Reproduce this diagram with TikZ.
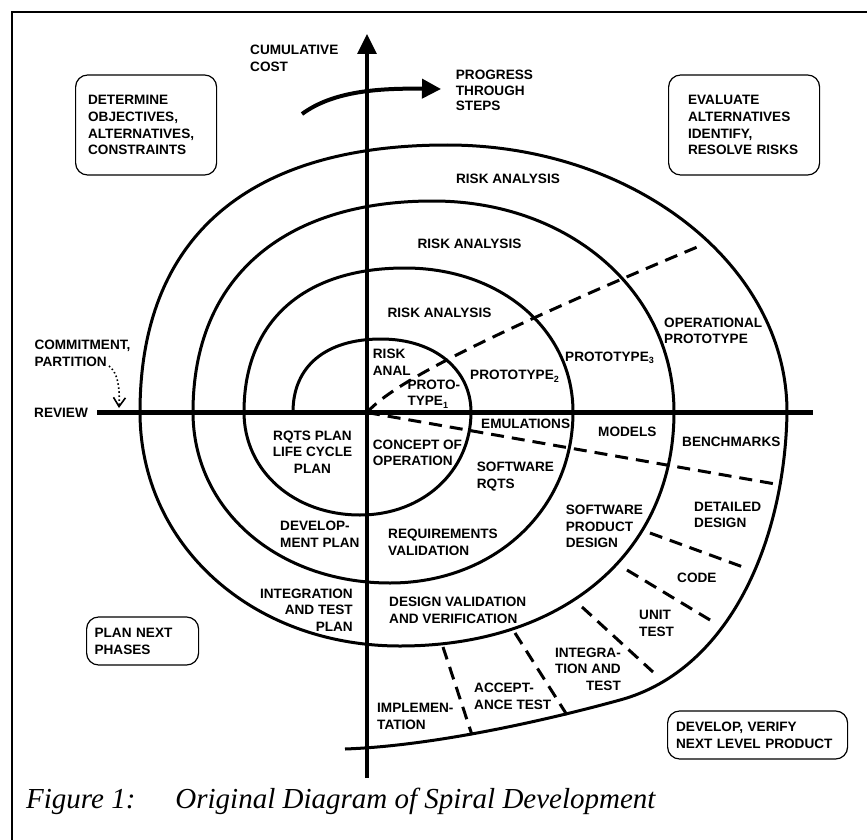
\documentclass[tikz,border=0pt]{standalone}
\usepackage{fontspec}
\setmainfont{Liberation Sans}
\newfontfamily\capfont{Liberation Serif}
\usetikzlibrary{arrows.meta}
\newcommand{\mysub}[1]{\raisebox{-2.5pt}{\fontsize{9}{9}\selectfont #1}}
\begin{document}
\begin{tikzpicture}[x=1pt,y=-1pt,
  lbl/.style={font=\fontsize{13.6}{16.6}\selectfont\bfseries, inner sep=0pt, align=left, anchor=west},
  box/.style={draw, line width=1.2pt, rounded corners=12pt, anchor=west, align=left, inner ysep=0pt,
              font=\fontsize{13.6}{16.8}\selectfont\bfseries},
  spiral/.style={line width=3pt},
  dsh/.style={line width=3pt, dash pattern=on 13pt off 8pt},
  axisline/.style={line width=3.2pt},
  fig/.style={anchor=base west, inner sep=0pt, font=\capfont\itshape\fontsize{29}{30}\selectfont}
]
\useasboundingbox (0,0) rectangle (867,840);
% frame
\draw[line width=1.8pt] (890,12) -- (12,12) -- (12,870);

% axes
\coordinate (axbot) at (367,778);
\coordinate (axtop) at (367,34);
\draw[axisline, -{Triangle[length=20pt,width=19pt]}] (axbot) -- (axtop);
\coordinate (revL) at (97,412.5);
\coordinate (revR) at (813,412.5);
\draw[line width=4.6pt] (revL) -- (revR);
\coordinate (O) at (367,412.5);

% spiral
\draw[spiral]
  (293,412) .. controls (293,366) and (326,339) .. (381,339)
            .. controls (435,339) and (471,370) .. (471,412)
            .. controls (471,471) and (423,515) .. (360,515)
            .. controls (294,515) and (244,471) .. (244,412)
            .. controls (244,321) and (304,268) .. (405,268)
            .. controls (501,268) and (573,330) .. (573,412)
            .. controls (573,510) and (494,583) .. (390,583)
            .. controls (278,583) and (193,510) .. (193,412)
            .. controls (193,279) and (282,201) .. (433,201)
            .. controls (570,201) and (674,292) .. (674,412)
            .. controls (674,552) and (564,646) .. (400,646)
            .. controls (252,646) and (140,545) .. (140,412)
            .. controls (140,238) and (247,145) .. (447,145)
            .. controls (634,145) and (787,265) .. (787,412)
            .. controls (785,540) and (730,670) .. (620,700)
            .. controls (540,722) and (430,746) .. (345,749);

% dashed dividers
\coordinate (upE) at (702,245);
\draw[dsh] (O) .. controls (392,384) and (480,338) .. (upE);
\coordinate (loE) at (781,485);
\draw[dsh] (O) -- (loE);
\coordinate (a1) at (650,533); \coordinate (a2) at (743,567);
\coordinate (b1) at (627,570); \coordinate (b2) at (710,620);
\coordinate (c1) at (582,607); \coordinate (c2) at (653,672);
\coordinate (d1) at (515,633); \coordinate (d2) at (567,715);
\coordinate (e1) at (443,647); \coordinate (e2) at (472,735);
\draw[dsh] (a1) -- (a2);
\draw[dsh] (b1) -- (b2);
\draw[dsh] (c1) -- (c2);
\draw[dsh] (d1) -- (d2);
\draw[dsh] (e1) -- (e2);

% progress arrow
\coordinate (pgA) at (302,114);
\coordinate (pgB) at (441,89);
\draw[line width=4pt, -{Triangle[length=19pt,width=19pt]}] (pgA) .. controls (332,92) and (375,88) .. (pgB);

% commitment arrow
\coordinate (cpA) at (109,366);
\coordinate (cpB) at (119,408);
\draw[line width=1.6pt, dash pattern=on 1.5pt off 2.5pt, -{Straight Barb[length=9pt,width=12pt]}]
  (cpA) .. controls (117,372) and (120,385) .. (cpB);

% boxes
\node[box, text width=116pt, inner xsep=12.5pt, minimum height=100pt] (bxA) at (75,125) {DETERMINE\\OBJECTIVES,\\ALTERNATIVES,\\CONSTRAINTS};
\node[box, text width=112pt, inner xsep=19.5pt, minimum height=100pt] (bxB) at (668,125) {EVALUATE\\ALTERNATIVES\\IDENTIFY,\\RESOLVE RISKS};
\node[box, text width=96pt, inner xsep=8pt, minimum height=48pt] (bxC) at (86,641) {PLAN NEXT\\PHASES};
\node[box, text width=163pt, inner xsep=8.5pt, minimum height=48pt] (bxD) at (667,735) {DEVELOP, VERIFY\\NEXT LEVEL PRODUCT};

% labels
\node[lbl] (cum) at (250,58.3) {CUMULATIVE\\COST};
\node[lbl, font=\fontsize{13.6}{15.6}\selectfont\bfseries] (prog) at (455.7,90.5) {PROGRESS\\THROUGH\\STEPS};
\node[lbl, anchor=center] (ra1) at (508,179) {RISK ANALYSIS};
\node[lbl, anchor=center] (ra2) at (469.5,244) {RISK ANALYSIS};
\node[lbl, anchor=center] (ra3) at (439.5,313) {RISK ANALYSIS};
\node[lbl] (ranal) at (372.7,362.5) {RISK\\ANAL};
\node[lbl] (p1) at (407.3,394) {PROTO-\\TYPE\mysub{1}};
\node[lbl] (p2) at (470,376) {PROTOTYPE\mysub{2}};
\node[lbl] (p3) at (565,358) {PROTOTYPE\mysub{3}};
\node[lbl] (opp) at (664,331) {OPERATIONAL\\PROTOTYPE};
\node[lbl] (com) at (34.3,353.3) {COMMITMENT,\\PARTITION};
\node[lbl] (rev) at (34,413) {REVIEW};
\node[lbl] (emu) at (481,424) {EMULATIONS};
\node[lbl] (mod) at (598,432) {MODELS};
\node[lbl] (ben) at (682,442) {BENCHMARKS};
\node[lbl] (swr) at (476.7,476.7) {SOFTWARE\\RQTS};
\node[lbl] (spd) at (565.7,526.5) {SOFTWARE\\PRODUCT\\DESIGN};
\node[lbl] (ddes) at (694,515) {DETAILED\\DESIGN};
\node[lbl] (code) at (677,578) {CODE};
\node[lbl] (unit) at (639,623.5) {UNIT\\TEST};
\node[lbl, align=right, anchor=east] (intg) at (621,669) {INTEGRA-\\TION AND\\TEST};
\node[lbl] (acc) at (474,696.5) {ACCEPT-\\ANCE TEST};
\node[lbl] (impl) at (377,716.5) {IMPLEMEN-\\TATION};
\node[lbl, align=center, anchor=center] (rqp) at (312.5,452) {RQTS PLAN\\LIFE CYCLE\\PLAN};
\node[lbl] (cop) at (372.7,452.7) {CONCEPT OF\\OPERATION};
\node[lbl] (dev) at (280,534.5) {DEVELOP-\\MENT PLAN};
\node[lbl] (rqv) at (388,542.5) {REQUIREMENTS\\VALIDATION};
\node[lbl, align=right, anchor=east] (itp) at (353,610) {INTEGRATION\\AND TEST\\PLAN};
\node[lbl] (dvv) at (389,610.5) {DESIGN VALIDATION\\AND VERIFICATION};

% caption
\node[fig] (cap) at (26,808) {Figure 1:\hspace{40pt}Original Diagram of Spiral Development};
\end{tikzpicture}
\end{document}
